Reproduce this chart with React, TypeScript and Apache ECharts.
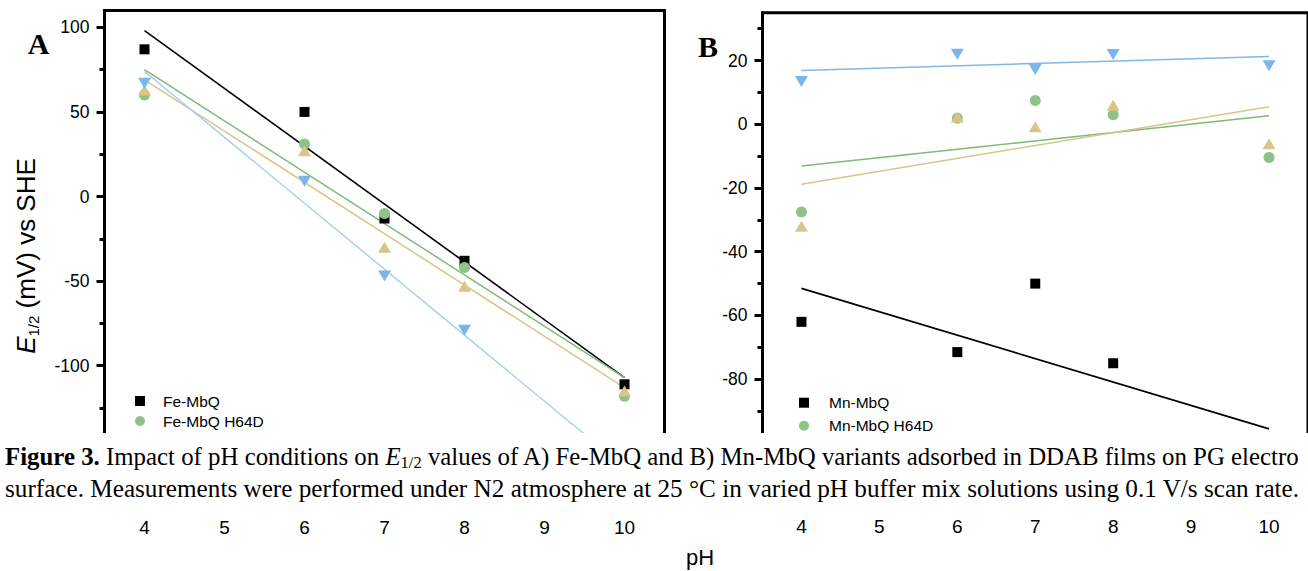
import React, { useEffect, useRef } from 'react';
import * as echarts from 'echarts';

// ---------- data ----------
const pH = [4, 6, 7, 8, 10];
const fitPH = [4, 10];
const xTicks = [4, 5, 6, 7, 8, 9, 10];

// Panel A (Fe-MbQ variants), E1/2 in mV
const feMbQ = [87, 50, -13, -38, -111];
const feMbQH64D = [60, 31, -10, -42, -118];
const feMbQTriangle = [63, 27, -30, -53, -115];
const feMbQInverted = [67, 9, -47, -79, -164];
const feFitMbQ = [98, -107];
const feFitH64D = [75, -107];
const feFitTriangle = [69, -113];
const feFitInverted = [74, -160];

// Panel B (Mn-MbQ variants), E1/2 in mV
const mnMbQ = [-62, -71.5, -50, -75, -109];
const mnMbQH64D = [-27.5, 1.9, 7.5, 3, -10.4];
const mnMbQTriangle = [-32, 2.3, -0.8, 6, -6.1];
const mnMbQInverted = [13.4, 22, 17.2, 21.9, 18.4];
const mnFitMbQ = [-51.5, -95.6];
const mnFitH64D = [-13.1, 2.7];
const mnFitTriangle = [-18.8, 5.5];
const mnFitInverted = [16.9, 21.3];

const yTicksA = [-100, -50, 0, 50, 100];
const yMinorA = [-125, -75, -25, 25, 75];
const yTicksB = [-80, -60, -40, -20, 0, 20];
const yMinorB = [-90, -70, -50, -30, -10, 10, 30];

const legendA = ['Fe-MbQ', 'Fe-MbQ H64D'];
const legendB = ['Mn-MbQ', 'Mn-MbQ H64D'];

const captionLine1 =
  '{b|Figure 3.}{r| Impact of pH conditions on }{i|E}{s|1/2}{r| values of A) Fe-MbQ and B) Mn-MbQ variants adsorbed in DDAB films on PG electro}';
const captionLine2 =
  'surface. Measurements were performed under N2 atmosphere at 25 °C in varied pH buffer mix solutions using 0.1 V/s scan rate.';

// ---------- styles ----------
const SANS = '"Liberation Sans", Arial, Helvetica, sans-serif';
const SERIF = '"Liberation Serif", "Times New Roman", serif';
const BLACK = '#000000';
const GREEN = '#8ec287';
const GREEN_LINE = '#80b978';
const TAN = '#d8c58a';
const BLUE = '#7ab6e8';
const BLUE_LINE_A = '#a9d1ef';
const BLUE_LINE_B = '#7fb7e6';
const CAP1 = 24.85;
const CAP2 = 25.2;

const scatter = (name: string, vals: number[], xi: number, yi: number, symbol: string, size: any, color: string, rotate = 0) => ({
  type: 'scatter',
  name,
  xAxisIndex: xi,
  yAxisIndex: yi,
  symbol,
  symbolSize: size,
  symbolRotate: rotate,
  itemStyle: { color, opacity: 1 },
  data: pH.map((x, i) => [x, vals[i]]),
  z: 3,
  clip: true,
  silent: true,
});

const fit = (name: string, ends: number[], xi: number, yi: number, color: string, width: number) => ({
  type: 'line',
  name,
  xAxisIndex: xi,
  yAxisIndex: yi,
  data: fitPH.map((x, i) => [x, ends[i]]),
  showSymbol: false,
  symbol: 'none',
  lineStyle: { color, width },
  z: 2,
  clip: true,
  silent: true,
});

const xAxisFor = (gridIndex: number, margin: number) => ({
  type: 'value',
  gridIndex,
  min: 3.5,
  max: 10.5,
  axisLine: { show: false, onZero: false },
  axisTick: { show: false },
  splitLine: { show: false },
  axisLabel: {
    customValues: xTicks,
    margin,
    fontSize: 19,
    color: BLACK,
    fontFamily: SANS,
    verticalAlign: 'middle',
  },
});

const yMajor = (gridIndex: number, min: number, max: number, ticks: number[]) => ({
  type: 'value',
  gridIndex,
  min,
  max,
  position: 'left',
  axisLine: { show: true, onZero: false, lineStyle: { color: BLACK, width: 3 } },
  axisTick: { show: true, customValues: ticks, length: 8, lineStyle: { color: BLACK, width: 3 } },
  axisLabel: { customValues: ticks, margin: 15, fontSize: 17.5, color: BLACK, fontFamily: SANS },
  splitLine: { show: false },
});

const yMinor = (gridIndex: number, min: number, max: number, ticks: number[]) => ({
  type: 'value',
  gridIndex,
  min,
  max,
  position: 'left',
  axisLine: { show: false, onZero: false },
  axisTick: { show: true, customValues: ticks, length: 5, lineStyle: { color: BLACK, width: 3 } },
  axisLabel: { show: false },
  splitLine: { show: false },
});

const legendFor = (names: string[], left: number, top: number, gap: number, textPad: number) => ({
  orient: 'vertical',
  left,
  top,
  padding: 0,
  itemWidth: 10,
  itemHeight: 10,
  itemGap: gap,
  selectedMode: false,
  data: [
    { name: names[0], icon: 'rect', itemStyle: { color: BLACK } },
    { name: names[1], icon: 'circle', itemStyle: { color: GREEN } },
  ],
  textStyle: { fontSize: 15.5, fontFamily: SANS, color: BLACK, lineHeight: 18, padding: [0, 0, 0, textPad] },
});

export default function App() {
  const ref = useRef<HTMLDivElement>(null);

  useEffect(() => {
    if (!ref.current) return;
    const chart = echarts.init(ref.current, undefined, { renderer: 'svg' });
    const option: any = {
      animation: false,
      backgroundColor: '#ffffff',
      textStyle: { fontFamily: SANS },
      grid: [
        { left: 104.5, top: 10.4, width: 560, height: 439.9, show: true, borderColor: BLACK, borderWidth: 3, backgroundColor: 'transparent' },
        { left: 762.5, top: 12.8, width: 555, height: 430.1, show: true, borderColor: BLACK, borderWidth: 3, backgroundColor: 'transparent' },
      ],
      xAxis: [xAxisFor(0, 77), xAxisFor(1, 84)],
      yAxis: [
        yMajor(0, -150, 110, yTicksA),
        yMinor(0, -150, 110, yMinorA),
        yMajor(1, -100, 35, yTicksB),
        yMinor(1, -100, 35, yMinorB),
      ],
      legend: [legendFor(legendA, 135, 392, 2, 13), legendFor(legendB, 799, 393.7, 5, 15)],
      series: [
        fit('Fe-MbQ fit', feFitMbQ, 0, 0, BLACK, 1.6),
        fit('Fe-MbQ H64D fit', feFitH64D, 0, 0, GREEN_LINE, 1.5),
        fit('Fe-MbQ triangle fit', feFitTriangle, 0, 0, TAN, 1.5),
        fit('Fe-MbQ inverted fit', feFitInverted, 0, 0, BLUE_LINE_A, 1.5),
        scatter('Fe-MbQ', feMbQ, 0, 0, 'rect', 10, BLACK),
        scatter('Fe-MbQ H64D', feMbQH64D, 0, 0, 'circle', 11, GREEN),
        scatter('Fe-MbQ triangle', feMbQTriangle, 0, 0, 'triangle', [13, 11], TAN),
        scatter('Fe-MbQ inverted', feMbQInverted, 0, 0, 'triangle', [13, 11], BLUE, 180),

        fit('Mn-MbQ fit', mnFitMbQ, 1, 2, BLACK, 1.6),
        fit('Mn-MbQ H64D fit', mnFitH64D, 1, 2, GREEN_LINE, 1.5),
        fit('Mn-MbQ triangle fit', mnFitTriangle, 1, 2, TAN, 1.5),
        fit('Mn-MbQ inverted fit', mnFitInverted, 1, 2, BLUE_LINE_B, 1.5),
        scatter('Mn-MbQ', mnMbQ, 1, 2, 'rect', 10, BLACK),
        scatter('Mn-MbQ H64D', mnMbQH64D, 1, 2, 'circle', 11, GREEN),
        scatter('Mn-MbQ triangle', mnMbQTriangle, 1, 2, 'triangle', [13, 11], TAN),
        scatter('Mn-MbQ inverted', mnMbQInverted, 1, 2, 'triangle', [13, 11], BLUE, 180),
      ],
      graphic: [
        {
          type: 'rect',
          z: 100,
          silent: true,
          shape: { x: 0, y: 433, width: 1308, height: 84 },
          style: { fill: '#ffffff' },
        },
        {
          type: 'text',
          z: 101,
          x: 5,
          y: 456,
          style: {
            text: captionLine1,
            fill: BLACK,
            font: `${CAP1}px ${SERIF}`,
            verticalAlign: 'middle',
            align: 'left',
            rich: {
              b: { fontFamily: SERIF, fontSize: CAP1, fontWeight: 'bold', lineHeight: 30, verticalAlign: 'middle' },
              r: { fontFamily: SERIF, fontSize: CAP1, lineHeight: 30, verticalAlign: 'middle' },
              i: { fontFamily: SERIF, fontSize: CAP1, fontStyle: 'italic', lineHeight: 30, verticalAlign: 'middle' },
              s: { fontFamily: SERIF, fontSize: 16.5, lineHeight: 16, verticalAlign: 'bottom' },
            },
          },
        },
        {
          type: 'text',
          z: 101,
          x: 5,
          y: 488,
          style: {
            text: captionLine2,
            fill: BLACK,
            font: `${CAP2}px ${SERIF}`,
            verticalAlign: 'middle',
            align: 'left',
          },
        },
        {
          type: 'text',
          z: 101,
          x: 700,
          y: 557,
          style: { text: 'pH', fill: BLACK, font: `22px ${SANS}`, align: 'center', verticalAlign: 'middle' },
        },
        {
          type: 'text',
          z: 101,
          x: 26,
          y: 256,
          rotation: Math.PI / 2,
          style: {
            text: '{i|E}{s|1/2}{r| (mV) vs SHE}',
            fill: BLACK,
            align: 'center',
            verticalAlign: 'middle',
            rich: {
              i: { fontFamily: SANS, fontSize: 26, fontStyle: 'italic', lineHeight: 30, verticalAlign: 'middle' },
              s: { fontFamily: SANS, fontSize: 15, lineHeight: 15, verticalAlign: 'bottom' },
              r: { fontFamily: SANS, fontSize: 26, lineHeight: 30, verticalAlign: 'middle' },
            },
          },
        },
        {
          type: 'text',
          z: 101,
          x: 38.5,
          y: 43,
          style: { text: 'A', fill: BLACK, font: `bold 30px ${SERIF}`, align: 'center', verticalAlign: 'middle' },
        },
        {
          type: 'text',
          z: 101,
          x: 708,
          y: 46.5,
          style: { text: 'B', fill: BLACK, font: `bold 30px ${SERIF}`, align: 'center', verticalAlign: 'middle' },
        },
      ],
    };
    chart.setOption(option);
    return () => chart.dispose();
  }, []);

  return (
    <div
      ref={ref}
      style={{ position: 'absolute', left: 0, top: 0, width: 1308, height: 571, background: '#fff' }}
    />
  );
}
